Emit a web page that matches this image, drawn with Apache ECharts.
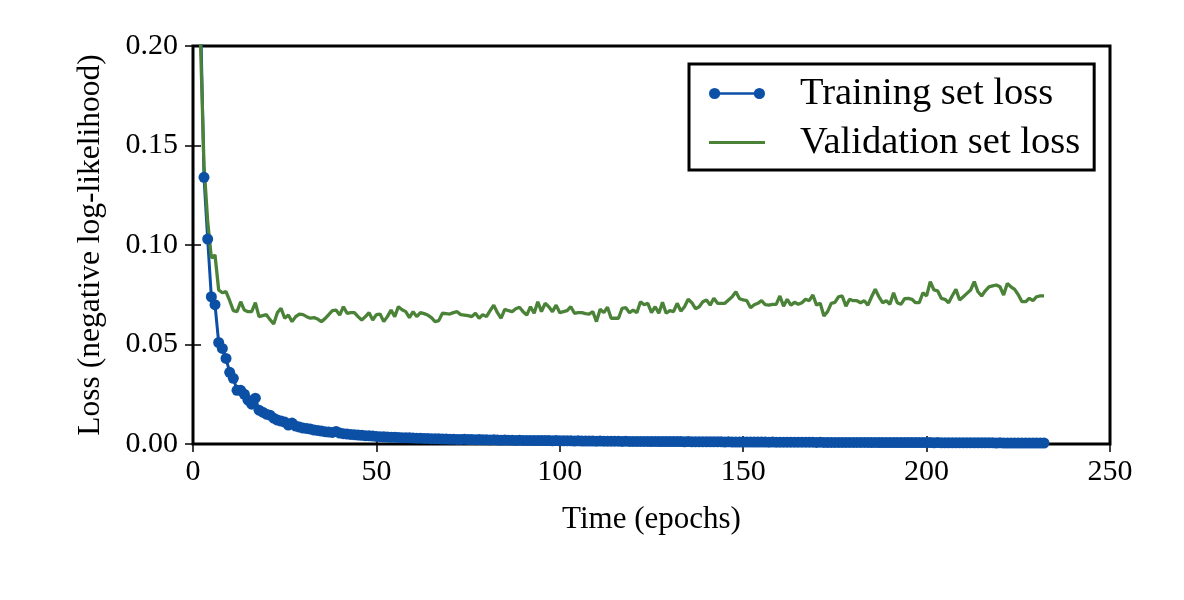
<!DOCTYPE html>
<html>
<head>
<meta charset="utf-8">
<script src="https://cdn.jsdelivr.net/npm/echarts@6/dist/echarts.min.js"></script>
<style>
html, body { margin: 0; padding: 0; background: #fff; }
#chart { width: 1184px; height: 600px; }
</style>
</head>
<body>
<div id="chart"></div>
<script>
// tick positions
var xTicks = [0, 50, 100, 150, 200, 250];
var yTicks = [0, 0.05, 0.10, 0.15, 0.20];

// loss per epoch (epoch 1..232)
var trainLoss = [
  0.40, 0.22, 0.134, 0.103, 0.074, 0.070, 0.051, 0.048, 0.043, 0.036,
  0.033, 0.027, 0.027, 0.025, 0.022, 0.020, 0.023, 0.017, 0.016, 0.015,
  0.0145, 0.013, 0.012, 0.0115, 0.011, 0.0095, 0.0105, 0.009, 0.0085, 0.008,
  0.0078, 0.0075, 0.007, 0.0068, 0.0065, 0.0062, 0.006, 0.0058, 0.0063, 0.0055,
  0.0052, 0.005, 0.0048, 0.0047, 0.0045, 0.0044, 0.0042, 0.0041, 0.004, 0.0038,
  0.0037, 0.0036, 0.0035, 0.0034, 0.0034, 0.0033, 0.0032, 0.0031, 0.0031, 0.003,
  0.0029, 0.0029, 0.0028, 0.0028, 0.0027, 0.0026, 0.0026, 0.0025, 0.0025, 0.0024,
  0.0024, 0.0023, 0.0023, 0.0024, 0.0022, 0.0022, 0.0021, 0.0022, 0.0021, 0.0021,
  0.0020, 0.0021, 0.0020, 0.0019, 0.0020, 0.0019, 0.0019, 0.0018, 0.0019, 0.0018,
  0.0018, 0.0018, 0.0017, 0.0018, 0.0017, 0.0017, 0.0017, 0.0016, 0.0017, 0.0016,
  0.0016, 0.0016, 0.0016, 0.0015, 0.0016, 0.0015, 0.0015, 0.0015, 0.0015, 0.0014,
  0.0015, 0.0014, 0.0014, 0.0014, 0.0014, 0.0014, 0.0013, 0.0014, 0.0013, 0.0013,
  0.0013, 0.0013, 0.0013, 0.0013, 0.0012, 0.0013, 0.0012, 0.0012, 0.0012, 0.0012,
  0.0012, 0.0012, 0.0012, 0.0011, 0.0012, 0.0011, 0.0011, 0.0011, 0.0011, 0.0011,
  0.0011, 0.0011, 0.0011, 0.0011, 0.0010, 0.0011, 0.0010, 0.0010, 0.0010, 0.0010,
  0.0010, 0.0010, 0.0010, 0.0010, 0.0010, 0.0010, 0.0009, 0.0010, 0.0009, 0.0009,
  0.0009, 0.0009, 0.0009, 0.0009, 0.0009, 0.0009, 0.0009, 0.0009, 0.0009, 0.0008,
  0.0009, 0.0008, 0.0008, 0.0008, 0.0008, 0.0008, 0.0008, 0.0008, 0.0008, 0.0008,
  0.0008, 0.0008, 0.0008, 0.0008, 0.0007, 0.0008, 0.0007, 0.0007, 0.0007, 0.0007,
  0.0007, 0.0007, 0.0007, 0.0007, 0.0007, 0.0007, 0.0007, 0.0007, 0.0007, 0.0007,
  0.0007, 0.0006, 0.0007, 0.0006, 0.0006, 0.0006, 0.0006, 0.0006, 0.0006, 0.0006,
  0.0006, 0.0006, 0.0006, 0.0006, 0.0006, 0.0006, 0.0006, 0.0006, 0.0005, 0.0006,
  0.0005, 0.0005, 0.0005, 0.0005, 0.0005, 0.0005, 0.0005, 0.0005, 0.0005, 0.0005, 0.0005, 0.0005
];

var valLoss = [
  0.32, 0.205, 0.14, 0.112, 0.0935, 0.095, 0.0774, 0.076, 0.0766, 0.072,
  0.067, 0.0665, 0.0715, 0.0673, 0.0665, 0.0665, 0.071, 0.064, 0.0645, 0.065,
  0.0625, 0.0603, 0.066, 0.0682, 0.0632, 0.0648, 0.0615, 0.064, 0.0653, 0.065,
  0.064, 0.0632, 0.0635, 0.0628, 0.0615, 0.063, 0.065, 0.067, 0.0673, 0.0648,
  0.069, 0.0657, 0.066, 0.066, 0.064, 0.0623, 0.064, 0.066, 0.0623, 0.065,
  0.0653, 0.0615, 0.064, 0.0673, 0.064, 0.069, 0.0675, 0.0665, 0.0635, 0.0665,
  0.064, 0.066, 0.0655, 0.0648, 0.0635, 0.0615, 0.062, 0.0657, 0.0655, 0.0653,
  0.066, 0.0665, 0.065, 0.0648, 0.0645, 0.064, 0.0657, 0.0632, 0.065, 0.064,
  0.067, 0.0698, 0.066, 0.0632, 0.0677, 0.067, 0.0665, 0.068, 0.0687, 0.0665,
  0.0648, 0.069, 0.0657, 0.0715, 0.0665, 0.0707, 0.069, 0.0665, 0.0698, 0.066,
  0.0665, 0.067, 0.069, 0.0657, 0.066, 0.066, 0.0655, 0.0653, 0.0665, 0.0615,
  0.0677, 0.066, 0.0687, 0.0632, 0.0632, 0.0632, 0.0682, 0.0685, 0.066, 0.0673,
  0.066, 0.0715, 0.070, 0.0707, 0.066, 0.069, 0.0657, 0.0712, 0.0657, 0.067,
  0.0665, 0.0707, 0.0668, 0.069, 0.0727, 0.071, 0.068, 0.069, 0.0715, 0.0724,
  0.0698, 0.0732, 0.0707, 0.0707, 0.0707, 0.0724, 0.074, 0.0765, 0.073, 0.0724,
  0.072, 0.0685, 0.070, 0.0707, 0.072, 0.070, 0.0698, 0.0702, 0.0702, 0.0744,
  0.0693, 0.0727, 0.0698, 0.0712, 0.0702, 0.071, 0.0727, 0.072, 0.0749, 0.0698,
  0.0707, 0.0643, 0.0665, 0.0707, 0.0712, 0.074, 0.0744, 0.0693, 0.0727, 0.072,
  0.072, 0.071, 0.072, 0.0698, 0.074, 0.0778, 0.074, 0.071, 0.072, 0.0702,
  0.076, 0.071, 0.0702, 0.073, 0.0732, 0.0727, 0.071, 0.071, 0.076, 0.0744,
  0.0816, 0.0774, 0.077, 0.0732, 0.0727, 0.071, 0.0745, 0.0777, 0.0724, 0.074,
  0.0757, 0.0774, 0.0816, 0.0765, 0.0744, 0.077, 0.079, 0.0795, 0.0799, 0.079,
  0.0749, 0.0807, 0.079, 0.0777, 0.075, 0.0715, 0.0715, 0.0732, 0.072, 0.074, 0.0744, 0.0744
];

var BLUE = '#0c50a6';
var GREEN = '#4a8238';
var FONT = 'Liberation Serif';

function pairs(vals) {
  return vals.map(function (v, i) { return [i + 1, v]; });
}

var tickStyle = { inside: true, length: 8, lineStyle: { color: '#000', width: 1.5 } };
var labelStyle = { color: '#000', fontFamily: FONT, fontSize: 30 };

var chart = echarts.init(document.getElementById('chart'), null, { renderer: 'canvas' });
chart.setOption({
  animation: false,
  backgroundColor: '#fff',
  grid: {
    left: 193, right: 74, top: 46, bottom: 156,
    show: true, borderColor: '#000', borderWidth: 3
  },
  xAxis: [{
    type: 'value',
    min: xTicks[0], max: xTicks[xTicks.length - 1], interval: xTicks[1] - xTicks[0],
    position: 'bottom',
    axisLine: { show: false },
    axisTick: tickStyle,
    splitLine: { show: false },
    axisLabel: Object.assign({ margin: 13 }, labelStyle),
    name: 'Time (epochs)',
    nameLocation: 'middle',
    nameGap: 60,
    nameTextStyle: { color: '#000', fontFamily: FONT, fontSize: 31 }
  }, {
    type: 'value',
    min: xTicks[0], max: xTicks[xTicks.length - 1], interval: xTicks[1] - xTicks[0],
    position: 'top',
    axisLine: { show: false },
    axisTick: tickStyle,
    splitLine: { show: false },
    axisLabel: { show: false }
  }],
  yAxis: [{
    type: 'value',
    min: yTicks[0], max: yTicks[yTicks.length - 1], interval: yTicks[1] - yTicks[0],
    position: 'left',
    axisLine: { show: false },
    axisTick: tickStyle,
    splitLine: { show: false },
    axisLabel: Object.assign({ margin: 15, formatter: function (v) { return v.toFixed(2); } }, labelStyle),
    name: 'Loss (negative log-likelihood)',
    nameLocation: 'middle',
    nameGap: 86,
    nameTextStyle: { color: '#000', fontFamily: FONT, fontSize: 31.5 }
  }, {
    type: 'value',
    min: yTicks[0], max: yTicks[yTicks.length - 1], interval: yTicks[1] - yTicks[0],
    position: 'right',
    axisLine: { show: false },
    axisTick: tickStyle,
    splitLine: { show: false },
    axisLabel: { show: false }
  }],
  legend: {
    orient: 'vertical',
    left: 689, top: 64,
    padding: [10, 14, 8, 20],
    itemGap: 10,
    itemWidth: 56, itemHeight: 11.2,
    borderColor: '#000', borderWidth: 3, borderRadius: 0,
    backgroundColor: '#fff',
    textStyle: { color: '#000', fontFamily: FONT, fontSize: 38.5, lineHeight: 38, padding: [0, 0, 0, 30] },
    data: [{
      name: 'Training set loss',
      icon: 'path://M6,0A6,6 0 1,1 6,12A6,6 0 1,1 6,0ZM54,0A6,6 0 1,1 54,12A6,6 0 1,1 54,0ZM6,4.6H54V7.4H6Z',
      itemStyle: { color: BLUE, borderWidth: 0 }
    }, {
      name: 'Validation set loss',
      icon: 'path://M0,0H56V3H0Z',
      itemStyle: { color: GREEN, borderWidth: 0 }
    }]
  },
  series: [{
    name: 'Training set loss',
    type: 'line',
    data: pairs(trainLoss),
    symbol: 'circle',
    symbolSize: 11,
    showAllSymbol: true,
    color: BLUE,
    itemStyle: { color: BLUE, borderWidth: 0 },
    lineStyle: { color: BLUE, width: 3 }
  }, {
    name: 'Validation set loss',
    type: 'line',
    data: pairs(valLoss),
    symbol: 'none',
    color: GREEN,
    lineStyle: { color: GREEN, width: 3.3 }
  }]
});
</script>
</body>
</html>
